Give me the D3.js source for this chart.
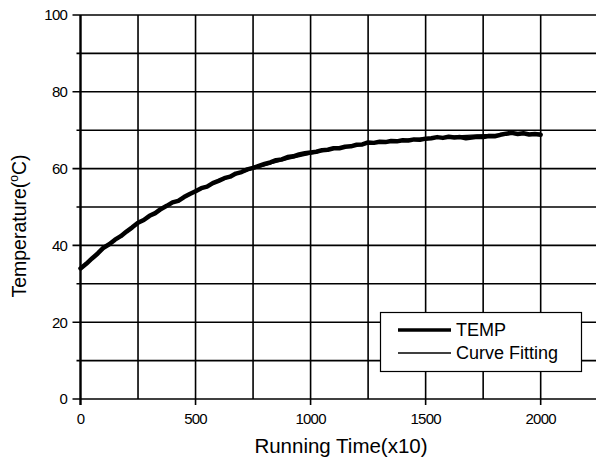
<!DOCTYPE html>
<html>
<head>
<meta charset="utf-8">
<script src="https://cdn.jsdelivr.net/npm/d3@7/dist/d3.min.js"></script>
<style>
  html, body { margin: 0; padding: 0; background: #fff; }
  svg { display: block; }
  text { font-family: "Liberation Sans", Arial, sans-serif; fill: #000; }
</style>
</head>
<body>
<script>
// Measured temperature, sampled every 25 running-time units (x10)
const tempTime = d3.range(0, 2001, 25);
const tempValues = [
  34.0, 35.2, 36.6, 37.9, 39.4, 40.3, 41.5, 42.4, 43.6, 44.7,
  45.9, 46.6, 47.7, 48.4, 49.5, 50.3, 51.2, 51.6, 52.6, 53.4,
  54.1, 54.9, 55.3, 56.2, 56.8, 57.5, 57.9, 58.7, 59.1, 59.8,
  60.2, 60.7, 61.2, 61.6, 62.2, 62.4, 63.0, 63.2, 63.7, 64.0,
  64.2, 64.4, 64.8, 64.9, 65.3, 65.3, 65.7, 65.8, 66.2, 66.3,
  66.8, 66.7, 67.0, 66.9, 67.2, 67.1, 67.4, 67.3, 67.6, 67.5,
  67.8, 67.9, 68.2, 68.0, 68.3, 68.1, 68.2, 67.9, 68.1, 68.3,
  68.2, 68.5, 68.4, 68.8, 69.1, 69.3, 69.0, 69.2, 68.9, 69.0,
  68.8
];

// Fitted curve, every 100 units
const fitTime = d3.range(0, 2001, 100);
const fitValues = [
  33.8, 39.0, 43.6, 47.6, 51.0, 54.0, 56.6, 58.9, 60.8, 62.4,
  63.8, 65.0, 66.0, 66.8, 67.5, 68.0, 68.4, 68.7, 68.9, 69.1, 69.2
];

const xTickValues = [0, 500, 1000, 1500, 2000];
const xGridValues = d3.range(0, 2251, 250);
const yTickValues = [0, 20, 40, 60, 80, 100];
const yGridValues = d3.range(0, 101, 10);
const seriesNames = ["TEMP", "Curve Fitting"];

const W = 596, H = 465;
const plotLeft = 80.5, plotTop = 15, plotBottom = 399;

const svg = d3.select("body").append("svg")
  .attr("width", W).attr("height", H);

const x = d3.scaleLinear().domain([0, 2250]).range([plotLeft, 598.2]);
const y = d3.scaleLinear().domain([0, 100]).range([plotBottom, plotTop]);

// Grid
const grid = svg.append("g").attr("stroke", "#000").attr("stroke-width", 1.6);
grid.selectAll("line.h").data(yGridValues).join("line")
  .attr("class", "h")
  .attr("x1", d => yTickValues.includes(d) ? plotLeft - 8 : plotLeft - 4)
  .attr("x2", W)
  .attr("y1", d => y(d)).attr("y2", d => y(d));
grid.selectAll("line.v").data(xGridValues).join("line")
  .attr("class", "v")
  .attr("x1", d => x(d)).attr("x2", d => x(d))
  .attr("y1", plotTop)
  .attr("y2", d => xTickValues.includes(d) ? plotBottom + 6 : plotBottom);

// Left axis line
svg.append("line")
  .attr("x1", plotLeft).attr("x2", plotLeft).attr("y1", plotTop).attr("y2", plotBottom + 6)
  .attr("stroke", "#000").attr("stroke-width", 2.2);

// Tick labels
svg.append("g").selectAll("text").data(yTickValues).join("text")
  .attr("x", 67).attr("y", d => y(d))
  .attr("dy", "0.36em")
  .attr("text-anchor", "end")
  .attr("font-size", 15)
  .attr("letter-spacing", "-0.8")
  .text(d => d);

svg.append("g").selectAll("text").data(xTickValues).join("text")
  .attr("x", d => x(d)).attr("y", 423.5)
  .attr("text-anchor", "middle")
  .attr("font-size", 15)
  .attr("letter-spacing", "-0.8")
  .text(d => d);

// Axis titles
svg.append("text")
  .attr("x", 341).attr("y", 453)
  .attr("text-anchor", "middle")
  .attr("font-size", 20.5)
  .text("Running Time(x10)");

const yTitle = svg.append("text")
  .attr("transform", "translate(26,226) rotate(-90)")
  .attr("text-anchor", "middle")
  .attr("font-size", 19.5);
yTitle.append("tspan").text("Temperature(");
yTitle.append("tspan").attr("font-size", 12).attr("dy", -8).text("o");
yTitle.append("tspan").attr("dy", 8).text("C)");

// Series
const tempData = tempTime.map((t, i) => [t, tempValues[i]]);
const fitData = fitTime.map((t, i) => [t, fitValues[i]]);

svg.append("path")
  .datum(fitData)
  .attr("fill", "none").attr("stroke", "#000").attr("stroke-width", 1.3)
  .attr("d", d3.line().x(d => x(d[0])).y(d => y(d[1])).curve(d3.curveMonotoneX));

svg.append("path")
  .datum(tempData)
  .attr("fill", "none").attr("stroke", "#000").attr("stroke-width", 4.5)
  .attr("stroke-linejoin", "round").attr("stroke-linecap", "round")
  .attr("d", d3.line().x(d => x(d[0])).y(d => y(d[1])));

// Legend
const lg = svg.append("g");
lg.append("rect")
  .attr("x", 380.5).attr("y", 312.5).attr("width", 201).attr("height", 59)
  .attr("fill", "#fff").attr("stroke", "#000").attr("stroke-width", 1.2);
const legendWidths = [3.5, 1.5];
const legendY = [330, 353];
seriesNames.forEach((name, i) => {
  lg.append("line")
    .attr("x1", 398).attr("x2", 451)
    .attr("y1", legendY[i]).attr("y2", legendY[i])
    .attr("stroke", "#000").attr("stroke-width", legendWidths[i]);
  lg.append("text")
    .attr("x", 456).attr("y", legendY[i])
    .attr("dy", "0.36em")
    .attr("font-size", 18)
    .text(name);
});
</script>
</body>
</html>
